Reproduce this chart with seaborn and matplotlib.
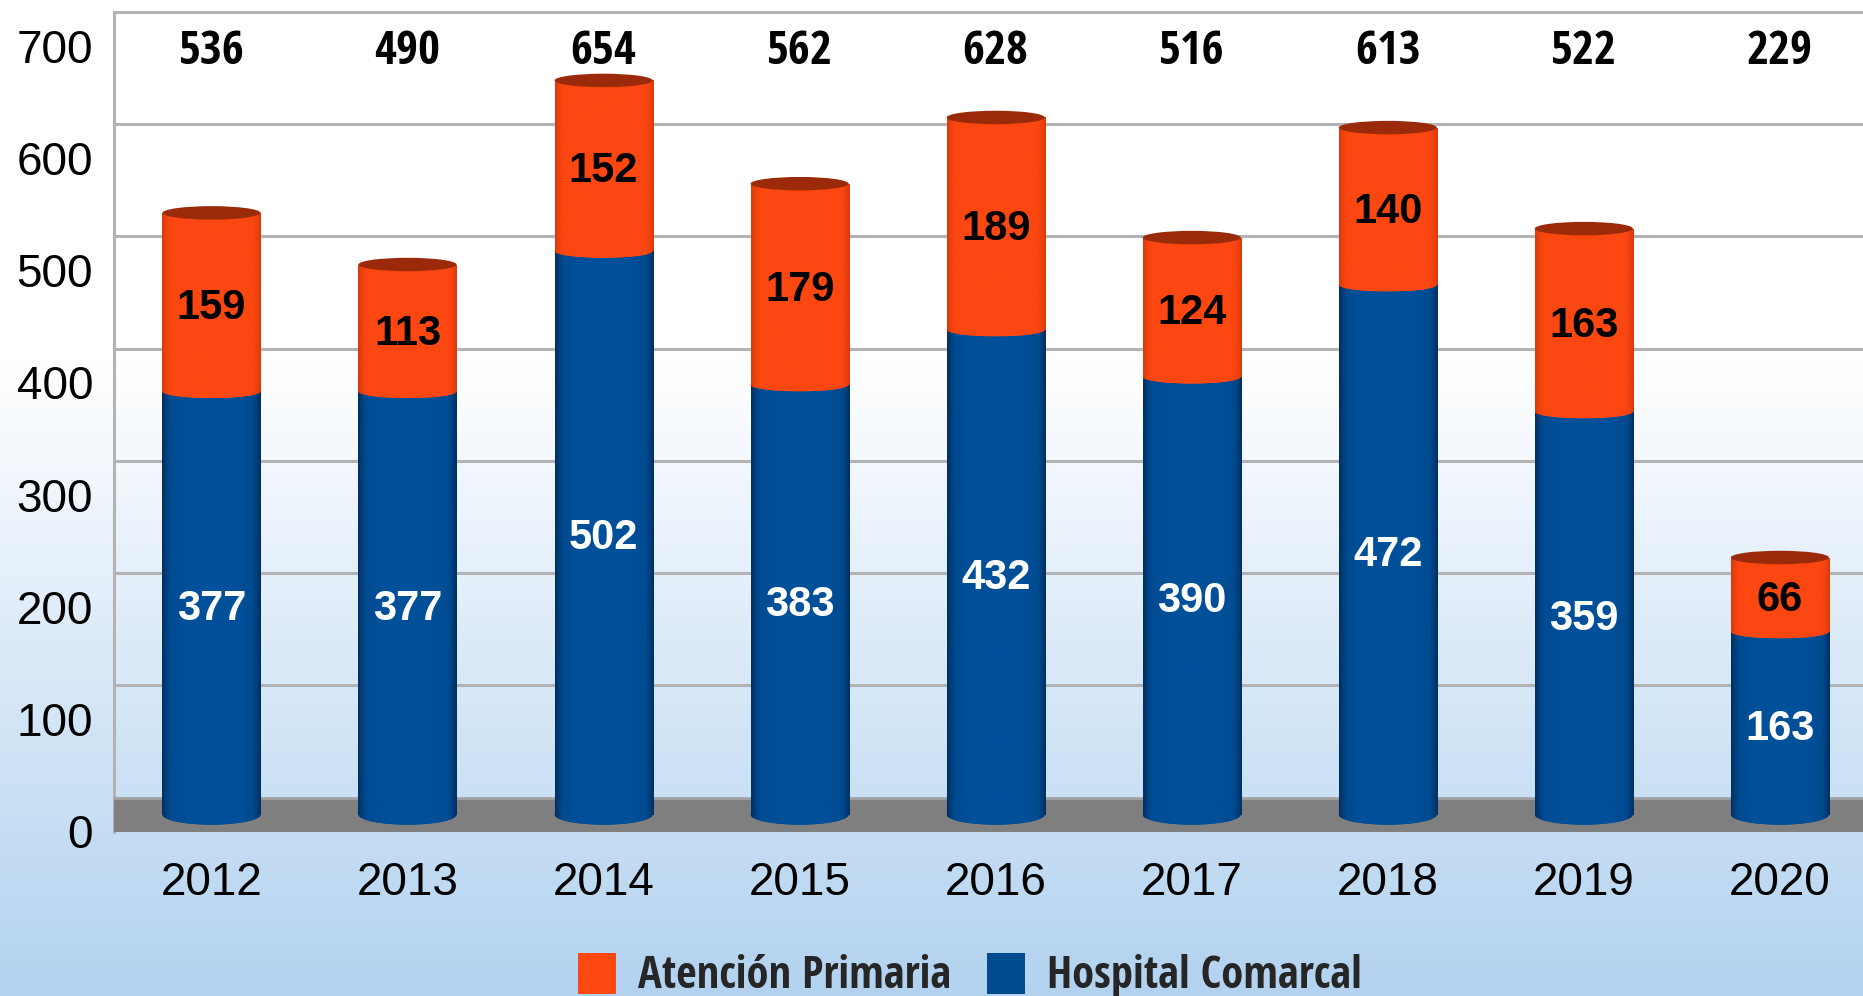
import numpy as np
import pandas as pd
import matplotlib
matplotlib.use("Agg")
import matplotlib.pyplot as plt
from matplotlib import font_manager as fm
from matplotlib.patches import Ellipse, Patch
from matplotlib.colors import LinearSegmentedColormap
import seaborn as sns

# ---- data ----
years = ["2012", "2013", "2014", "2015", "2016", "2017", "2018", "2019", "2020"]
atencion_primaria = [159, 113, 152, 179, 189, 124, 140, 163, 66]
hospital_comarcal = [377, 377, 502, 383, 432, 390, 472, 359, 163]
totals = [536, 490, 654, 562, 628, 516, 613, 522, 229]
y_ticks = [0, 100, 200, 300, 400, 500, 600, 700]
series_names = ["Atención Primaria", "Hospital Comarcal"]

# ---- style ----
ORANGE = "#fc4711"
ORANGE_EDGE = "#d83a0c"
ORANGE_LID = "#9a2a0a"
BLUE = "#004a8f"
BLUE_EDGE = "#002f5f"
GRID = "#b3b3b3"
FLOOR = "#7f7f7f"
DEPTH = 15          # offset of the back wall / front edge in the pseudo-3D frame
LID_H = 12          # height of the cylinder caps (data units)
BASE_H = 18         # height of the cylinder base ellipse

sns.set_theme(style="white")
plt.rcParams["font.family"] = ["Liberation Sans", "DejaVu Sans"]


def condensed_bold(size):
    """Pick a bold condensed face from the installed fonts."""
    prefs = ["liberation sans narrow", "arial narrow", "noto sans", "open sans",
             "roboto", "dejavu sans", "lato", "inter"]
    best = None
    for f in fm.fontManager.ttflist:
        name = f.name.lower()
        fname = f.fname.lower()
        is_cond = ("narrow" in name or "condensed" in name or "narrow" in fname
                   or ("condensed" in fname and "semicondensed" not in fname
                       and "extracondensed" not in fname)
                   or f.stretch == "condensed")
        if "extracondensed" in fname or "mono" in name or "italic" in fname or f.style != "normal":
            continue
        w = f.weight if isinstance(f.weight, int) else 700 if "bold" in str(f.weight) else 400
        if not is_cond or not (650 <= w <= 750 or "bold" in fname) or "semibold" in fname or "extrabold" in fname:
            continue
        rank = next((i for i, p in enumerate(prefs) if name.startswith(p)), len(prefs))
        if best is None or rank < best[0]:
            best = (rank, f.fname)
    if best is None:
        return fm.FontProperties(family=["Liberation Sans", "DejaVu Sans"],
                                 weight="bold", size=size)
    return fm.FontProperties(fname=best[1], size=size)


df = pd.DataFrame({
    "year": years,
    "primaria": atencion_primaria,
    "hospital": hospital_comarcal,
})
df["stack_top"] = df["hospital"] + df["primaria"]

fig = plt.figure(figsize=(18.63, 9.96), dpi=100)

# background gradient: white at top, light blue toward the bottom
bg = fig.add_axes([0, 0, 1, 1], zorder=-10)
rows = np.linspace(0, 1, 400)
frac = np.clip((rows - 0.36) / 0.64, 0, 1)
top_c = np.array([1.0, 1.0, 1.0])
bot_c = np.array([178, 210, 240]) / 255.0
grad_bg = top_c[None, :] * (1 - frac[:, None]) + bot_c[None, :] * frac[:, None]
bg.imshow(grad_bg[:, None, :], aspect="auto", extent=(0, 1, 0, 1))
bg.set_axis_off()

ax = fig.add_axes([0.0612, 0.1647, 0.9388, 0.8233])
ax.set_facecolor("none")

# stacked cylinders: full stack in orange, hospital portion in blue on top of it
sns.barplot(data=df, x="year", y="stack_top", color=ORANGE, saturation=1,
            width=0.5, errorbar=None, linewidth=0, ax=ax, zorder=3)
n = len(years)
orange_bars = list(ax.patches[:n])
sns.barplot(data=df, x="year", y="hospital", color=BLUE, saturation=1,
            width=0.5, errorbar=None, linewidth=0, ax=ax, zorder=4)
blue_bars = list(ax.patches[n:2 * n])

t = np.linspace(-1, 1, 256)
profile = 1 - np.abs(t) ** 4
shade_grad = profile[None, :]
cmap_orange = LinearSegmentedColormap.from_list("o", [ORANGE_EDGE, ORANGE, ORANGE])
cmap_blue = LinearSegmentedColormap.from_list("b", [BLUE_EDGE, BLUE, "#00509a"])


def shade(patch, x0, x1, y0, y1, cmap, z):
    im = ax.imshow(shade_grad, extent=(x0, x1, y0, y1), cmap=cmap, vmin=0, vmax=1,
                   aspect="auto", zorder=z, interpolation="bilinear")
    im.set_clip_path(patch)


total_font = condensed_bold(34)
LABEL_SHIFT = 5

for i, (ob, bb) in enumerate(zip(orange_bars, blue_bars)):
    x0, w = ob.get_x(), ob.get_width()
    xc = x0 + w / 2
    top = ob.get_height()
    mid = bb.get_height()
    # body shading
    shade(ob, x0, x0 + w, 0, top, cmap_orange, 3.1)
    shade(bb, x0, x0 + w, 0, mid, cmap_blue, 4.1)
    # rounded base over the floor
    base = Ellipse((xc, 0), w, BASE_H, facecolor=BLUE, edgecolor="none", zorder=4.2)
    ax.add_patch(base)
    shade(base, x0, x0 + w, -BASE_H / 2, BASE_H / 2, cmap_blue, 4.3)
    # curved seam between the two segments
    seam = Ellipse((xc, mid), w, LID_H, facecolor=ORANGE, edgecolor="none", zorder=4.4)
    ax.add_patch(seam)
    shade(seam, x0, x0 + w, mid - LID_H / 2, mid + LID_H / 2, cmap_orange, 4.5)
    # top cap
    ax.add_patch(Ellipse((xc, top), w, LID_H, facecolor=ORANGE_LID,
                         edgecolor="none", zorder=4.6))

    # segment values
    ax.text(xc, mid / 2 - LABEL_SHIFT, str(hospital_comarcal[i]), ha="center",
            va="center", color="white", fontsize=30, fontweight="bold", zorder=10)
    ax.text(xc, mid + (top - mid) / 2 - LABEL_SHIFT, str(atencion_primaria[i]),
            ha="center", va="center", color="black", fontsize=30,
            fontweight="bold", zorder=10)
    # totals along the top
    ax.text(xc, 680, str(totals[i]), ha="center", va="center", color="black",
            fontproperties=total_font, zorder=10)

# back wall grid and floor
for k in y_ticks[1:-1]:
    ax.axhline(k + DEPTH, color=GRID, lw=2.2, zorder=1)
ax.axhspan(-16, DEPTH, color=FLOOR, zorder=1.5, lw=0)
ax.axhline(DEPTH, color="#a3a3a3", lw=2, zorder=1.6)

ax.set_xlim(-0.497, n - 1 + 0.424)
ax.set_ylim(-15.5, 715)

ax.set_yticks([k - DEPTH for k in y_ticks])
ax.set_yticklabels([str(k) for k in y_ticks])
ax.tick_params(axis="y", length=0, pad=15, labelsize=33, colors="black")
ax.tick_params(axis="x", length=0, pad=21, labelsize=33, colors="black")
ax.set_xlabel("")
ax.set_ylabel("")

for side in ["right", "bottom"]:
    ax.spines[side].set_visible(False)
for side in ["top", "left"]:
    ax.spines[side].set_visible(True)
    ax.spines[side].set_color(GRID)
    ax.spines[side].set_linewidth(2.2)
    ax.spines[side].set_zorder(1)

handles = [Patch(facecolor=ORANGE, edgecolor="none"), Patch(facecolor=BLUE, edgecolor="none")]
fig.legend(handles, series_names, loc="center", bbox_to_anchor=(0.5207, 0.02),
           ncol=2, frameon=False, handlelength=0.85, handleheight=1.05,
           handletextpad=0.5, columnspacing=0.8,
           prop=condensed_bold(32))

fig.savefig("out.png", dpi=100)
